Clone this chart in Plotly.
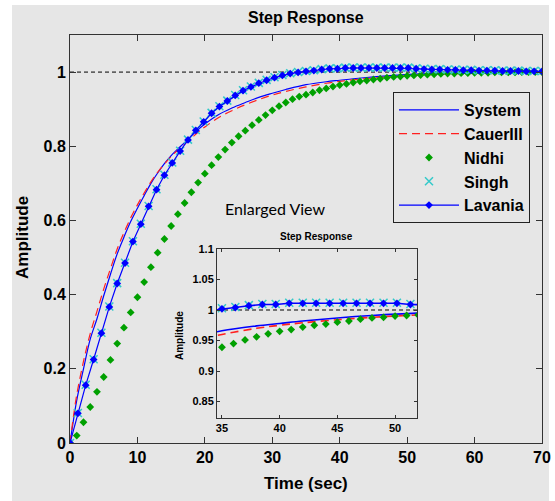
import plotly.graph_objects as go

# ---------------- data ----------------
t_sys = [0, 0.5, 1, 2, 3, 4, 5, 6, 7, 8, 9, 10, 11, 12, 13, 14, 15, 16, 17, 18, 19, 20,
         22, 24, 26, 28, 30, 32, 35, 38, 40, 42, 45, 48, 52, 56, 60, 65, 70]
y_system = [0.0, 0.06, 0.115, 0.2, 0.28, 0.335, 0.397, 0.455, 0.51, 0.555, 0.597, 0.633,
            0.667, 0.70, 0.728, 0.753, 0.775, 0.793, 0.81, 0.828, 0.845, 0.86,
            0.885, 0.903, 0.918, 0.932, 0.943, 0.953, 0.966, 0.974, 0.978, 0.982,
            0.987, 0.991, 0.995, 0.997, 0.998, 0.999, 1.0]
y_cauer = [0.0, 0.07, 0.13, 0.22, 0.295, 0.355, 0.415, 0.47, 0.523, 0.567, 0.607, 0.642,
           0.674, 0.704, 0.73, 0.752, 0.772, 0.79, 0.806, 0.822, 0.838, 0.852,
           0.877, 0.896, 0.912, 0.926, 0.938, 0.948, 0.96, 0.97, 0.975, 0.979,
           0.984, 0.988, 0.992, 0.995, 0.997, 0.999, 1.0]

t_nidhi = [0, 1, 2, 3, 4, 5, 6, 7, 8, 9, 10, 11, 12, 13, 14, 15, 16, 17, 18, 19, 20,
           21, 22, 23, 24, 25, 26, 27, 28, 29, 30, 31, 32, 33, 34, 35, 36, 37, 38, 39, 40,
           41, 42, 43, 44, 45, 46, 47, 48, 49, 50, 51, 52, 53, 54, 55, 56, 57, 58, 59, 60,
           61, 62, 63, 64, 65, 66, 67, 68, 69, 70]
y_nidhi = [0.0, 0.02, 0.056, 0.097, 0.138, 0.178, 0.224, 0.268, 0.311, 0.352, 0.393,
           0.434, 0.474, 0.513, 0.55, 0.585, 0.617, 0.647, 0.676, 0.702, 0.726,
           0.749, 0.771, 0.791, 0.81, 0.827, 0.842, 0.857, 0.871, 0.884, 0.897,
           0.908, 0.918, 0.927, 0.934, 0.939, 0.945, 0.951, 0.956, 0.961, 0.965,
           0.968, 0.972, 0.975, 0.977, 0.98, 0.982, 0.985, 0.987, 0.988, 0.99,
           0.991, 0.992, 0.993, 0.994, 0.995, 0.996, 0.996, 0.997, 0.997, 0.998,
           0.998, 0.998, 0.999, 0.999, 0.999, 0.999, 1.0, 1.0, 1.0, 1.0]

t_lav = [0, 1.17, 2.33, 3.5, 4.66, 5.83, 7.0, 8.16, 9.33, 10.5, 11.66, 12.83, 14.0, 15.16,
         16.33, 17.5, 18.66, 19.83, 21.0, 22.16, 23.33, 24.5, 25.66, 26.83, 28.0, 29.16,
         30.33, 31.5, 32.66, 33.83, 35.0, 36.16, 37.33, 38.5, 39.66, 40.83, 42.0, 43.16,
         44.33, 45.5, 46.66, 47.83, 49.0, 50.16, 51.33, 52.5, 53.66, 54.83, 56.0, 57.16,
         58.33, 59.5, 60.66, 61.83, 63.0, 64.16, 65.33, 66.5, 67.66, 68.83, 70.0]
y_lavania = [0.0, 0.08, 0.156, 0.225, 0.296, 0.367, 0.43, 0.485, 0.543, 0.59, 0.638,
             0.683, 0.722, 0.755, 0.787, 0.817, 0.843, 0.866, 0.889, 0.907, 0.922,
             0.937, 0.95, 0.96, 0.97, 0.978, 0.985, 0.991, 0.996, 0.999, 1.002,
             1.004, 1.007, 1.009, 1.009, 1.011, 1.011, 1.011, 1.011, 1.011, 1.011,
             1.011, 1.011, 1.011, 1.009, 1.008, 1.007, 1.007, 1.006, 1.006, 1.005,
             1.005, 1.004, 1.004, 1.004, 1.003, 1.003, 1.003, 1.002, 1.002, 1.002]
y_singh = [0.0, 0.081, 0.157, 0.226, 0.297, 0.368, 0.431, 0.486, 0.544, 0.591, 0.639,
           0.684, 0.723, 0.756, 0.788, 0.818, 0.844, 0.867, 0.89, 0.908, 0.923,
           0.938, 0.951, 0.961, 0.971, 0.979, 0.986, 0.992, 0.997, 1.0, 1.003,
           1.005, 1.008, 1.01, 1.01, 1.012, 1.012, 1.012, 1.012, 1.012, 1.012,
           1.012, 1.012, 1.012, 1.01, 1.009, 1.008, 1.008, 1.007, 1.007, 1.006,
           1.006, 1.005, 1.005, 1.005, 1.004, 1.004, 1.004, 1.003, 1.003, 1.003]

ref_t = [0, 70]
ref_y = [1, 1]

series_names = ["System", "CauerIII", "Nidhi", "Singh", "Lavania"]

# ---------------- layout helpers ----------------
W, H = 555, 501
def px(x):
    return x / W
def py(y):
    return 1 - y / H

BG = "#e6e6e6"
FONT = "Liberation Sans Narrow, Arial Narrow, Liberation Sans, sans-serif"
BLUE = "#0000ff"
RED = "#ff2020"
GREEN = "#00a000"
CYAN = "#33c9c9"

fig = go.Figure()

def add_all(xa, ya, show, lw, ms):
    fig.add_trace(go.Scatter(x=ref_t, y=ref_y, mode="lines", xaxis=xa, yaxis=ya,
                             line=dict(color="black", width=1, dash="4px,3px"),
                             showlegend=False, hoverinfo="skip"))
    fig.add_trace(go.Scatter(x=t_sys, y=y_system, mode="lines", name=series_names[0],
                             xaxis=xa, yaxis=ya, line=dict(color=BLUE, width=lw, shape="spline"),
                             showlegend=show))
    fig.add_trace(go.Scatter(x=t_sys, y=y_cauer, mode="lines", name=series_names[1],
                             xaxis=xa, yaxis=ya,
                             line=dict(color=RED, width=lw, dash="8px,5px", shape="spline"),
                             showlegend=show))
    fig.add_trace(go.Scatter(x=t_nidhi, y=y_nidhi, mode="markers", name=series_names[2],
                             xaxis=xa, yaxis=ya,
                             marker=dict(symbol="diamond", size=ms, color=GREEN),
                             showlegend=show))
    fig.add_trace(go.Scatter(x=t_lav, y=y_singh, mode="markers", name=series_names[3],
                             xaxis=xa, yaxis=ya,
                             marker=dict(symbol="x-thin-open", size=ms + 2, color=CYAN,
                                         line=dict(color=CYAN, width=1.5)),
                             showlegend=show))
    fig.add_trace(go.Scatter(x=t_lav, y=y_lavania, mode="lines+markers", name=series_names[4],
                             xaxis=xa, yaxis=ya, line=dict(color=BLUE, width=lw),
                             marker=dict(symbol="diamond", size=ms, color=BLUE),
                             showlegend=show))

add_all("x", "y", True, 1.2, 6)
add_all("x2", "y2", False, 1.6, 6)

axis_common = dict(showgrid=False, zeroline=False, showline=True, linecolor="#333333",
                   linewidth=1, mirror="ticks", ticks="inside", tickcolor="#333333",
                   automargin=False)

def note(text, x, y, size, family=FONT, angle=0, color="black"):
    return dict(text=text, xref="paper", yref="paper", x=px(x), y=py(y),
                xanchor="center", yanchor="middle", showarrow=False, textangle=angle,
                font=dict(size=size, family=family, color=color))

fig.update_layout(
    width=W, height=H,
    margin=dict(l=0, r=0, t=0, b=0),
    paper_bgcolor="white",
    plot_bgcolor=BG,
    font=dict(family=FONT, color="black"),
    xaxis=dict(domain=[px(70), px(542)], range=[0, 70], tickvals=[0, 10, 20, 30, 40, 50, 60, 70],
               ticklen=6, tickfont=dict(size=16, family=FONT, weight="bold"), anchor="y",
               **axis_common),
    yaxis=dict(domain=[py(443), py(35)], range=[0, 1.1], tickvals=[0, 0.2, 0.4, 0.6, 0.8, 1],
               ticktext=["0", "0.2", "0.4", "0.6", "0.8", "1"],
               ticklen=6, tickfont=dict(size=16, family=FONT, weight="bold"), anchor="x",
               **axis_common),
    xaxis2=dict(domain=[px(217), px(417)], range=[34.57, 51.9], tickvals=[35, 40, 45, 50],
                ticklen=3, tickfont=dict(size=11, family=FONT, weight="bold"), anchor="y2",
                **axis_common),
    yaxis2=dict(domain=[py(418), py(249)], range=[0.823, 1.1],
                tickvals=[0.85, 0.9, 0.95, 1, 1.05, 1.1],
                ticktext=["0.85", "0.9", "0.95", "1", "1.05", "1.1"],
                ticklen=3, tickfont=dict(size=11, family=FONT, weight="bold"), anchor="x2",
                **axis_common),
    legend=dict(x=px(393), y=py(92), xanchor="left", yanchor="top",
                bgcolor=BG, bordercolor="#222222", borderwidth=1,
                font=dict(size=16, family=FONT, weight="bold"),
                itemwidth=60, tracegroupgap=0, entrywidth=120),
    shapes=[dict(type="rect", xref="paper", yref="paper", x0=px(12), x1=px(549),
                 y0=0, y1=py(5), fillcolor=BG, line=dict(width=0), layer="below")],
    annotations=[
        note("<b>Step Response</b>", 306, 17, 16),
        note("<b>Time (sec)</b>", 306, 483, 17),
        note("<b>Amplitude</b>", 22, 238, 17, angle=-90),
        note("Enlarged View", 275, 209, 16, family="Lato, sans-serif"),
        note("<b>Step Response</b>", 316, 236, 10),
        note("<b>Amplitude</b>", 179, 336, 10, angle=-90),
    ],
)

fig.write_html("out.html")
